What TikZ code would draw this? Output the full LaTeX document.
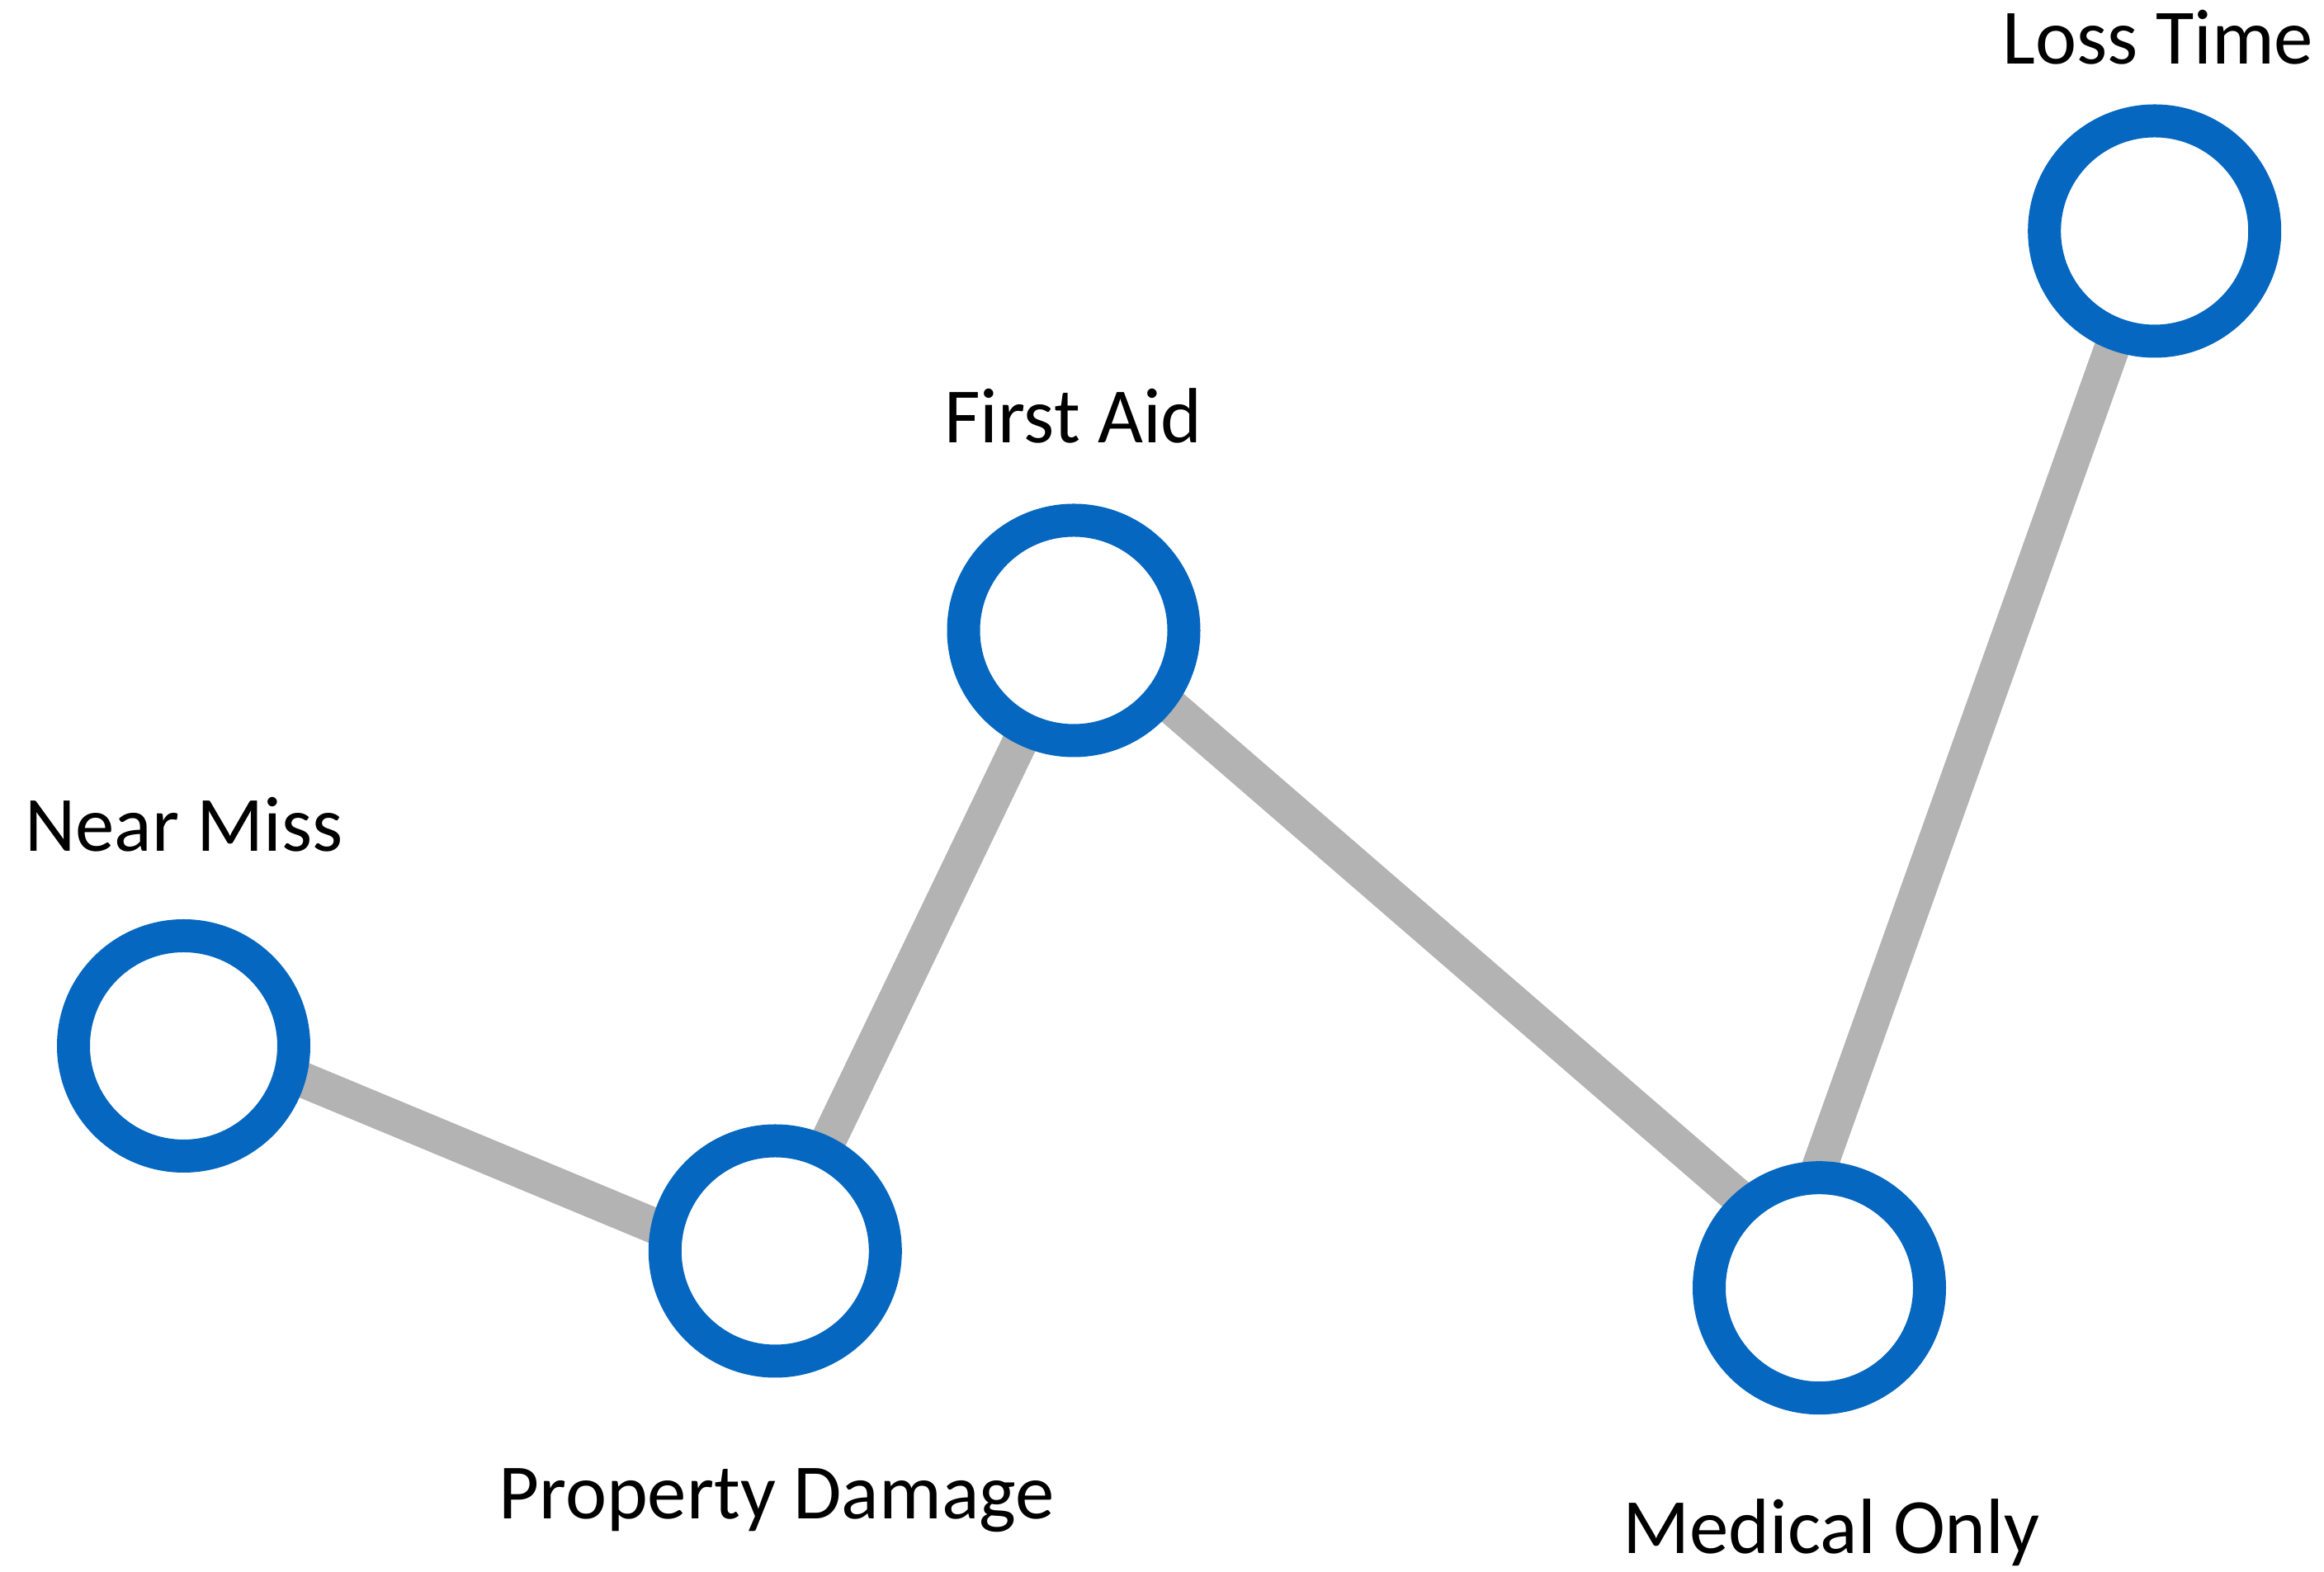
\documentclass[tikz,border=0pt]{standalone}
\usepackage{fontspec}
\setmainfont{Carlito}
\usetikzlibrary{calc}
\pgfdeclarelayer{bg}
\pgfsetlayers{bg,main}
\definecolor{ringblue}{HTML}{0567C0}
\definecolor{linkgray}{HTML}{B3B3B3}

\begin{document}
\begin{tikzpicture}[ev/.style={circle, draw=ringblue, line width=0.40cm, fill=white, minimum size=2.67cm, inner sep=0},
lbl/.style={anchor=base, inner sep=0, font=\fontsize{27}{32}\selectfont},
link/.style={draw=linkgray, line width=0.43cm, shorten <=-0.3cm, shorten >=-0.3cm}]
	\useasboundingbox (0,0) rectangle (28.16,19.05);
	\node[ev] at (2.225,6.375) (nm) {};
	\node[ev] at (9.393,3.89) (pd) {};
	\node[ev] at (13.01,11.41) (fa) {};
	\node[ev] at (22.045,3.443) (mo) {};
	\node[ev] at (26.107,16.25) (lt) {};
	\begin{pgfonlayer}{bg}
	\draw[link] (nm.-16) -- (pd.168);
	\draw[link] (pd) -- (fa);
	\draw[link] (fa.-38) -- (mo.132);
	\draw[link] (mo.89) -- (lt.-110);
	\end{pgfonlayer}
	\node[lbl] at (2.23,8.733) (nmlab) {Near Miss};
	\node[lbl] at (9.41,0.64) (pdlab) {Property Damage};
	\node[lbl] at (13.005,13.683) (falab) {First Aid};
	\node[lbl] at (22.19,0.22) (molab) {Medical Only};
	\node[lbl] at (26.15,18.277) (ltlab) {Loss Time};
\end{tikzpicture}
\end{document}
